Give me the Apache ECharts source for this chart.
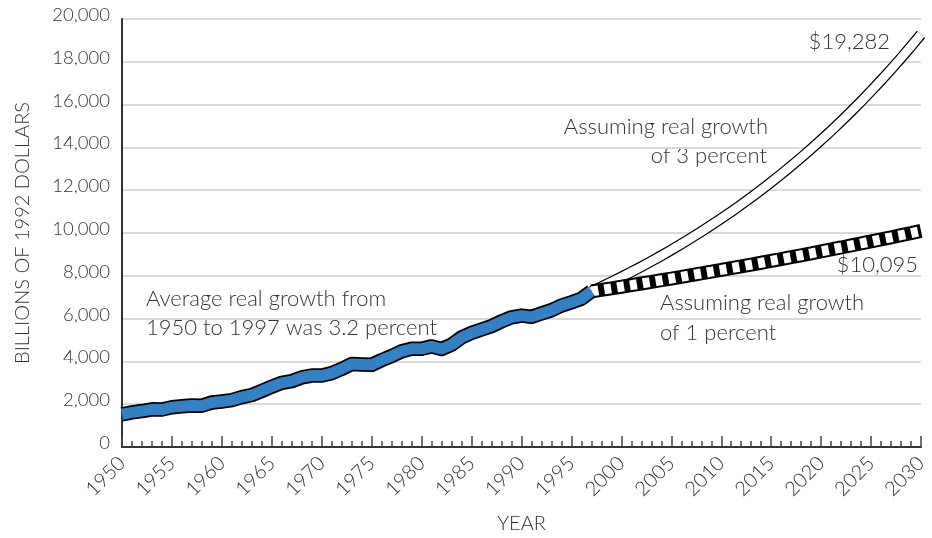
<!DOCTYPE html>
<html>
<head>
<meta charset="utf-8">
<script src="https://cdn.jsdelivr.net/npm/echarts@6/dist/echarts.min.js"></script>
<style>
html,body{margin:0;padding:0;background:#fff;}
#chart{width:932px;height:538px;}
</style>
</head>
<body>
<div id="chart"></div>
<script>
// Historic years and values (billions of 1992 dollars)
var histYears = [1950,1951,1952,1953,1954,1955,1956,1957,1958,1959,1960,1961,1962,1963,1964,1965,1966,1967,1968,1969,1970,1971,1972,1973,1974,1975,1976,1977,1978,1979,1980,1981,1982,1983,1984,1985,1986,1987,1988,1989,1990,1991,1992,1993,1994,1995,1996,1997];
var histValues = [1530,1620,1680,1760,1750,1860,1900,1940,1930,2080,2130,2190,2330,2430,2620,2820,3000,3080,3250,3340,3340,3450,3650,3880,3860,3840,4060,4250,4470,4590,4590,4700,4580,4780,5120,5330,5490,5650,5870,6060,6140,6080,6240,6390,6610,6760,6930,7270];

// Projection years and values
var projYears = [1997,1998,1999,2000,2001,2002,2003,2004,2005,2006,2007,2008,2009,2010,2011,2012,2013,2014,2015,2016,2017,2018,2019,2020,2021,2022,2023,2024,2025,2026,2027,2028,2029,2030];
var proj3Values = [7270,7488,7713,7944,8182,8428,8681,8941,9209,9486,9770,10063,10365,10676,10996,11326,11666,12016,12376,12748,13130,13524,13930,14348,14778,15222,15678,16149,16633,17132,17646,18176,18721,19282];
var proj1Values = [7270,7343,7416,7490,7565,7641,7717,7794,7872,7951,8031,8111,8192,8274,8357,8440,8525,8610,8696,8783,8871,8960,9049,9140,9231,9323,9417,9511,9606,9702,9799,9897,9996,10095];

var xTickYears = [1950,1955,1960,1965,1970,1975,1980,1985,1990,1995,2000,2005,2010,2015,2020,2025,2030];
var yTicks = [0,2000,4000,6000,8000,10000,12000,14000,16000,18000,20000];

function pairs(xs, ys){ return xs.map(function(x,i){ return [x, ys[i]]; }); }

var FONT = 'Lato, "Open Sans", "Noto Sans", sans-serif';
var TXT = '#333333';

var chart = echarts.init(document.getElementById('chart'), null, {renderer:'canvas'});
function txt(s, size){ return {text:s, fontFamily:FONT, fontWeight:300, fontSize:size, fill:TXT}; }
var option = {
  animation: false,
  backgroundColor: '#ffffff',
  grid: {left:122, right:11, top:19, bottom:91, containLabel:false, outerBoundsMode:'none'},
  xAxis: {
    type: 'value',
    min: xTickYears[0], max: xTickYears[xTickYears.length-1], interval: 5,
    name: 'YEAR', nameLocation: 'middle', nameGap: 67,
    nameTextStyle: {fontFamily: FONT, fontWeight:300, fontSize: 20, color: TXT},
    axisLine: {show:true, onZero:false, lineStyle:{color:'#333', width:2}},
    axisTick: {show:true, inside:true, length:11, lineStyle:{color:'#444', width:1.5}},
    minorTick: {show:true, splitNumber:5, length:6, lineStyle:{color:'#444', width:1.5}},
    splitLine: {show:false},
    axisLabel: {rotate:45, margin:13, fontFamily: FONT, fontWeight:300, fontSize:20, color:TXT,
      formatter: function(v){ return String(v); }}
  },
  yAxis: {
    type: 'value',
    min: yTicks[0], max: yTicks[yTicks.length-1], interval: 2000,
    name: 'BILLIONS OF 1992 DOLLARS', nameLocation:'middle', nameGap: 89,
    nameTextStyle: {fontFamily: FONT, fontWeight:300, fontSize: 20, color: TXT},
    axisLine: {show:true, lineStyle:{color:'#333', width:2}},
    axisTick: {show:false},
    splitLine: {show:true, lineStyle:{color:'#d9d9d9', width:2}},
    axisLabel: {margin:12, fontFamily: FONT, fontWeight:300, fontSize:18.5, color:TXT,
      verticalAlign:'bottom', lineHeight:8,
      formatter: function(v){ return v.toLocaleString('en-US'); }}
  },
  series: [
    {type:'line', name:'g3o', data: pairs(projYears, proj3Values), symbol:'none', z:2,
      lineStyle:{color:'#000', width:11, join:'round'}},
    {type:'line', name:'g3', data: pairs(projYears, proj3Values), symbol:'none', z:2,
      lineStyle:{color:'#fff', width:8.5, join:'round'}},
    {type:'line', name:'g1o', data: pairs(projYears, proj1Values), symbol:'none', z:3,
      lineStyle:{color:'#000', width:14}},
    {type:'line', name:'g1', data: pairs(projYears, proj1Values), symbol:'none', z:3,
      lineStyle:{color:'#fff', width:10, type:[7,6]}},
    {type:'line', name:'histo', data: pairs(histYears, histValues), symbol:'none', z:4,
      lineStyle:{color:'#000', width:14.5, join:'round'}},
    {type:'line', name:'hist', data: pairs(histYears, histValues), symbol:'none', z:4,
      lineStyle:{color:'#3580c2', width:11, join:'round'}}
  ],
  graphic: [
    {type:'text', left:146, top:284, style:Object.assign(txt('Average real growth from\n1950 to 1997 was 3.2 percent', 22), {lineHeight:29})},
    {type:'text', right:932-768, top:116, style:txt('Assuming real growth', 22)},
    {type:'text', right:932-767, top:145, style:txt('of 3 percent', 22)},
    {type:'text', left:660, top:288, style:Object.assign(txt('Assuming real growth\nof 1 percent', 22), {lineHeight:30})},
    {type:'text', right:932-890, top:31, style:txt('$19,282', 22)},
    {type:'text', right:932-918, top:254, style:txt('$10,095', 22)}
  ]
};
chart.setOption(option);
</script>
</body>
</html>
